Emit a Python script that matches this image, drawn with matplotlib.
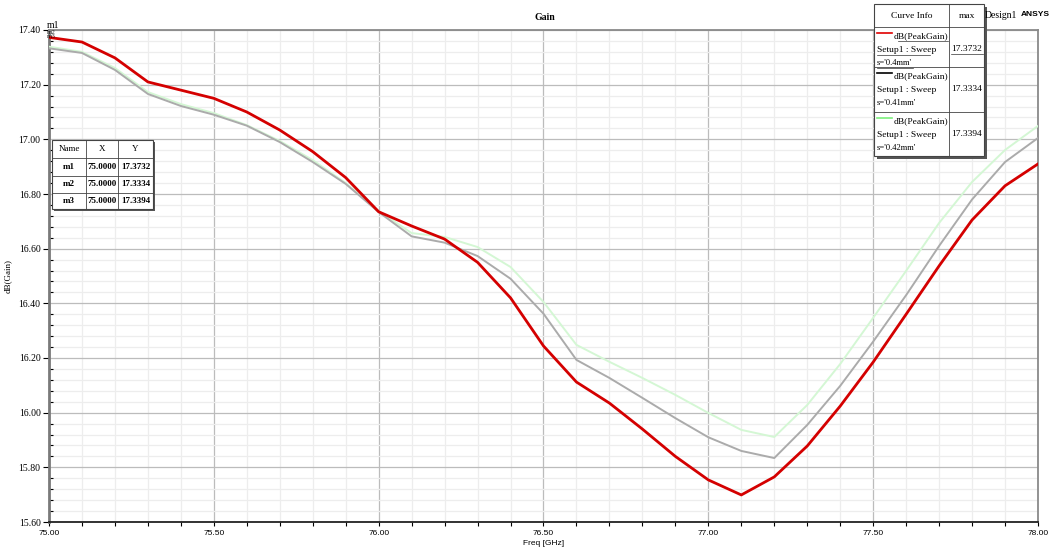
import matplotlib
matplotlib.use("Agg")
import matplotlib.pyplot as plt
from matplotlib.patches import Rectangle
from matplotlib.ticker import MultipleLocator, FormatStrFormatter

# ── data ─────────────────────────────────────────────────────────────────────
freq = [75.0, 75.1, 75.2, 75.3, 75.4, 75.5, 75.6, 75.7, 75.8, 75.9,
        76.0, 76.1, 76.2, 76.3, 76.4, 76.5, 76.6, 76.7, 76.8, 76.9,
        77.0, 77.1, 77.2, 77.3, 77.4, 77.5, 77.6, 77.7, 77.8, 77.9, 78.0]

gain_040 = [17.373, 17.356, 17.298, 17.210, 17.180, 17.150, 17.100, 17.034, 16.955, 16.860,
            16.735, 16.683, 16.635, 16.550, 16.420, 16.244, 16.112, 16.035, 15.940, 15.840,
            15.754, 15.699, 15.765, 15.878, 16.024, 16.185, 16.360, 16.537, 16.705, 16.830, 16.910]

gain_041 = [17.333, 17.316, 17.254, 17.166, 17.122, 17.090, 17.050, 16.990, 16.917, 16.837,
            16.734, 16.645, 16.622, 16.573, 16.490, 16.362, 16.193, 16.127, 16.054, 15.980,
            15.910, 15.860, 15.834, 15.955, 16.098, 16.260, 16.430, 16.610, 16.780, 16.917, 17.005]

gain_042 = [17.339, 17.320, 17.261, 17.173, 17.129, 17.096, 17.052, 16.994, 16.924, 16.840,
            16.738, 16.657, 16.643, 16.606, 16.533, 16.405, 16.248, 16.186, 16.127, 16.065,
            15.999, 15.937, 15.911, 16.028, 16.178, 16.347, 16.519, 16.694, 16.844, 16.961, 17.049]

curve_labels = ["s='0.4mm'", "s='0.41mm'", "s='0.42mm'"]
curve_max = ["17.3732", "17.3334", "17.3394"]
marker_names = ["m1", "m2", "m3"]
marker_x = ["75.0000", "75.0000", "75.0000"]
marker_y = ["17.3732", "17.3334", "17.3394"]

SERIF = ["Liberation Serif", "DejaVu Serif"]
NARROW = ["Liberation Sans Narrow", "Liberation Sans", "DejaVu Sans"]

fig = plt.figure(figsize=(10.52, 5.55), dpi=100)
ax = fig.add_axes([49 / 1052, 1 - 522 / 555, (1038 - 49) / 1052, (522 - 30) / 555])

# traces: non-selected ones are drawn dimmed, like HFSS does
ax.plot(freq, gain_042, color="#d4f7d4", linewidth=1.4, zorder=3)
ax.plot(freq, gain_041, color="#ababab", linewidth=1.4, zorder=4)
ax.plot(freq, gain_040, color="#d40000", linewidth=2.0, zorder=5)

ax.set_xlim(75.0, 78.0)
ax.set_ylim(15.6, 17.4)
ax.xaxis.set_major_locator(MultipleLocator(0.5))
ax.xaxis.set_minor_locator(MultipleLocator(0.1))
ax.yaxis.set_major_locator(MultipleLocator(0.2))
ax.yaxis.set_minor_locator(MultipleLocator(0.04))
ax.xaxis.set_major_formatter(FormatStrFormatter("%.2f"))
ax.yaxis.set_major_formatter(FormatStrFormatter("%.2f"))

ax.grid(True, which="major", color="#bcbcbc", linewidth=0.9, zorder=0)
ax.grid(True, which="minor", color="#ededed", linewidth=0.9, zorder=0)
ax.set_axisbelow(True)

ax.tick_params(axis="x", which="both", direction="out", length=3, width=0.8,
               labelsize=6, pad=3)
ax.tick_params(axis="y", which="major", direction="out", length=4, width=0.8,
               labelsize=7, pad=2)
ax.tick_params(axis="y", which="minor", direction="in", length=3, width=0.8)
for lab in ax.get_xticklabels():
    lab.set_family(NARROW)
for lab in ax.get_yticklabels():
    lab.set_family(SERIF)

ax.spines["left"].set_color("#7a7a7a")
ax.spines["left"].set_linewidth(2.0)
ax.spines["bottom"].set_color("#222222")
ax.spines["bottom"].set_linewidth(1.3)
ax.spines["top"].set_color("#8a8a8a")
ax.spines["top"].set_linewidth(1.3)
ax.spines["right"].set_color("#8a8a8a")
ax.spines["right"].set_linewidth(1.3)

ax.set_xlabel("Freq [GHz]", fontsize=6, family=NARROW, labelpad=2)
ax.set_ylabel("dB(Gain)", fontsize=6.5, family=SERIF, labelpad=5)

# ── overlay in pixel coordinates for title / tables ─────────────────────────
ov = fig.add_axes([0, 0, 1, 1], zorder=10)
ov.set_xlim(0, 1052)
ov.set_ylim(555, 0)
ov.axis("off")
ov.patch.set_alpha(0)

ov.text(545, 17, "Gain", fontsize=7, fontweight="bold", family=SERIF,
        ha="center", va="center")
ov.text(985, 16, "Design1", fontsize=7, family=SERIF, ha="left", va="center")
ov.text(1021, 15, "ANSYS", fontsize=6, fontweight="bold", family=NARROW,
        ha="left", va="center")

# marker labels at top-left
ov.text(47, 25, "m1", fontsize=7, family=SERIF, ha="left", va="center")
ov.text(47, 32, "m2", fontsize=5, family=SERIF, ha="left", va="center", alpha=0.8)
ov.text(47, 37, "m3", fontsize=5, family=SERIF, ha="left", va="center", alpha=0.8)

# curve info legend
lx0, lx1, ldiv = 874, 984, 949
rows = [4, 27, 67, 112, 156]
ov.add_patch(Rectangle((lx0 + 3, rows[0] + 3), lx1 - lx0, rows[-1] - rows[0],
                       facecolor="#555555", edgecolor="none"))
ov.add_patch(Rectangle((lx0, rows[0]), lx1 - lx0, rows[-1] - rows[0],
                       facecolor="white", edgecolor="#444444", linewidth=0.8))
for r in rows[1:-1]:
    ov.plot([lx0, lx1], [r, r], color="#444444", linewidth=0.6)
ov.plot([ldiv, ldiv], [rows[0], rows[-1]], color="#444444", linewidth=0.6)
ov.text((lx0 + ldiv) / 2, 16, "Curve Info", fontsize=6.8, family=SERIF,
        ha="center", va="center")
ov.text((ldiv + lx1) / 2, 16, "max", fontsize=6.8, family=SERIF,
        ha="center", va="center")
legend_colors = ["#e00000", "#000000", "#7cf07c"]
for i in range(3):
    top = rows[i + 1]
    ov.plot([877, 892], [top + 6, top + 6], color=legend_colors[i], linewidth=1.2)
    ov.text(948, top + 9, "dB(PeakGain)", fontsize=6.8, family=SERIF,
            ha="right", va="center")
    ov.text(877, top + 23, "Setup1 : Sweep", fontsize=6.8, family=SERIF,
            ha="left", va="center")
    ov.text(877, top + 36, curve_labels[i], fontsize=6.2, family=SERIF,
            ha="left", va="center")
    ov.text((ldiv + lx1) / 2, top + 22, curve_max[i], fontsize=6.8, family=SERIF,
            ha="center", va="center")
    if i == 0:
        # selected trace is underlined in HFSS
        for y0, x0, x1 in [(top + 14, 898, 948), (top + 28, 877, 930),
                           (top + 41, 877, 913), (top + 27, 951, 983)]:
            ov.plot([x0, x1], [y0, y0], color="#333333", linewidth=0.5)

# marker table
mx = [52, 86, 118, 153]
my = [140, 158, 176, 193, 209]
ov.add_patch(Rectangle((mx[0] + 2, my[0] + 2), mx[-1] - mx[0], my[-1] - my[0],
                       facecolor="#555555", edgecolor="none"))
ov.add_patch(Rectangle((mx[0], my[0]), mx[-1] - mx[0], my[-1] - my[0],
                       facecolor="white", edgecolor="#444444", linewidth=0.8))
for r in my[1:-1]:
    ov.plot([mx[0], mx[-1]], [r, r], color="#444444", linewidth=0.6)
for c in mx[1:-1]:
    ov.plot([c, c], [my[0], my[-1]], color="#444444", linewidth=0.6)
for j, head in enumerate(["Name", "X", "Y"]):
    ov.text((mx[j] + mx[j + 1]) / 2, (my[0] + my[1]) / 2, head, fontsize=6.5,
            family=SERIF, ha="center", va="center")
for i in range(3):
    yc = (my[i + 1] + my[i + 2]) / 2
    for j, val in enumerate([marker_names[i], marker_x[i], marker_y[i]]):
        ov.text((mx[j] + mx[j + 1]) / 2, yc, val, fontsize=6.5, family=SERIF,
                fontweight="bold", ha="center", va="center")

fig.savefig("out.png", dpi=100)
